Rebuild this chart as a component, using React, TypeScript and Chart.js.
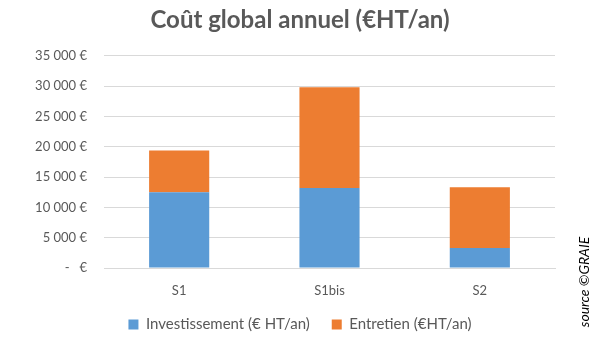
import React, { useEffect, useRef } from "react";
import { Chart, registerables } from "chart.js";

Chart.register(...registerables);

const categories = ["S1", "S1bis", "S2"];
const investissement = [12500, 13200, 3300];
const entretien = [6900, 16600, 10000];
const seriesLabels = ["Investissement (€ HT/an)", "Entretien (€HT/an)"];
const titleText = "Coût global annuel (€HT/an)";
const sourceText = "source ©GRAIE";

const FONT = "Lato, 'Open Sans', sans-serif";

const sourcePlugin = {
  id: "sourceText",
  afterDraw(chart: any) {
    const ctx = chart.ctx;
    ctx.save();
    ctx.translate(584, 282);
    ctx.rotate(-Math.PI / 2);
    ctx.font = `italic 14px ${FONT}`;
    ctx.fillStyle = "#000000";
    ctx.textAlign = "center";
    ctx.textBaseline = "middle";
    ctx.fillText(sourceText, 0, 0);
    ctx.restore();
  },
};

function fmt(v: number) {
  if (v === 0) return "-   €";
  return v.toString().replace(/\B(?=(\d{3})+(?!\d))/g, " ") + " €";
}

export default function App() {
  const ref = useRef<HTMLCanvasElement>(null);
  useEffect(() => {
    if (!ref.current) return;
    const chart = new Chart(ref.current, {
      type: "bar",
      data: {
        labels: categories,
        datasets: [
          {
            label: seriesLabels[0],
            data: investissement,
            backgroundColor: "#5B9BD5",
            barPercentage: 0.4,
            categoryPercentage: 1,
          },
          {
            label: seriesLabels[1],
            data: entretien,
            backgroundColor: "#ED7D31",
            barPercentage: 0.4,
            categoryPercentage: 1,
          },
        ],
      },
      options: {
        animation: false,
        responsive: false,
        layout: { padding: { left: 0, right: 0, top: 4, bottom: 8 } },
        plugins: {
          title: {
            display: true,
            text: titleText,
            color: "#595959",
            font: { family: FONT, size: 24, weight: "bold", lineHeight: 1.2 },
            padding: { top: 2, bottom: 21 },
          },
          legend: {
            position: "bottom",
            labels: {
              color: "#595959",
              font: { family: FONT, size: 15 },
              boxWidth: 10,
              boxHeight: 10,
              padding: 22,
            },
          },
          tooltip: { enabled: false },
        },
        scales: {
          x: {
            stacked: true,
            grid: { display: false, drawTicks: false },
            border: { color: "#d9d9d9" },
            ticks: { color: "#595959", font: { family: FONT, size: 13 }, padding: 15 },
            afterFit(scale: any) {
              scale.height = 27;
            },
          },
          y: {
            stacked: true,
            min: 0,
            max: 35000,
            afterFit(scale: any) {
              scale.width = 104;
            },
            grid: { color: "#d9d9d9", drawTicks: false },
            border: { display: false },
            ticks: {
              stepSize: 5000,
              color: "#595959",
              font: { family: FONT, size: 13 },
              padding: 17,
              callback: (v: any) => fmt(Number(v)),
            },
          },
          yRight: {
            position: "right",
            display: true,
            min: 0,
            max: 35000,
            grid: { display: false, drawTicks: false },
            border: { display: false },
            ticks: { display: false },
            afterFit(scale: any) {
              scale.width = 45;
            },
          },
        },
      },
      plugins: [sourcePlugin],
    });
    return () => chart.destroy();
  }, []);
  return (
    <div style={{ position: "fixed", left: 0, top: 0, width: 600, height: 350, background: "#fff" }}>
      <canvas ref={ref} width={600} height={350} />
    </div>
  );
}
